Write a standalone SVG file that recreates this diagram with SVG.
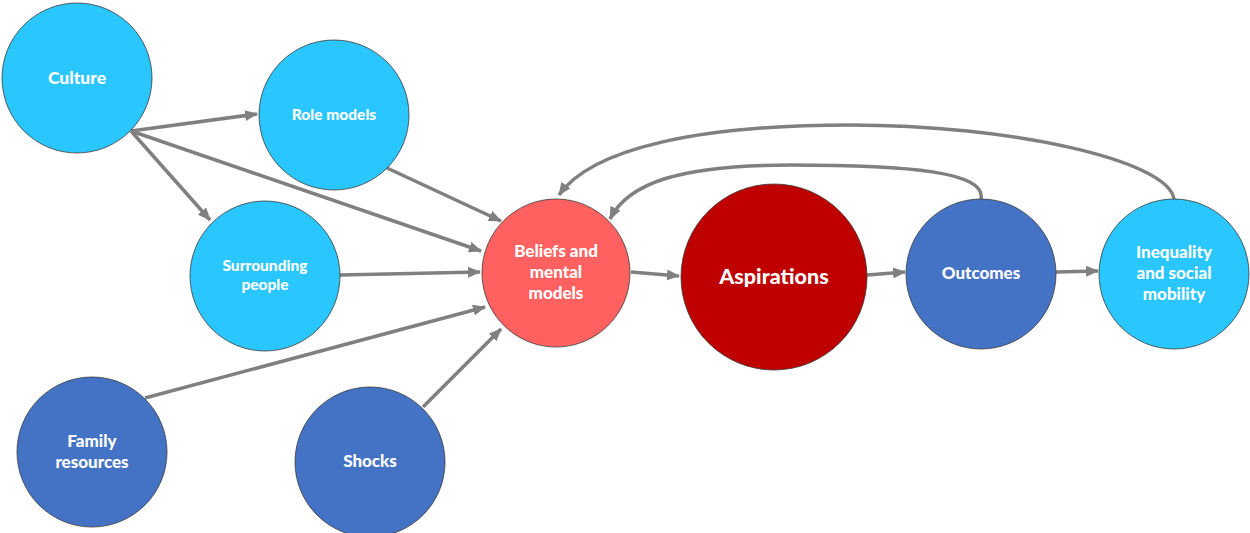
<svg xmlns="http://www.w3.org/2000/svg" width="1250" height="533" viewBox="0 0 1250 533">
<defs>
<marker id="ah" markerUnits="userSpaceOnUse" markerWidth="13" markerHeight="11" refX="12" refY="5.5" orient="auto">
<path d="M0,0 L13,5.5 L0,11 z" fill="#808080"/>
</marker>
<style>
.c{stroke:#3a3a3a;stroke-width:0.8}
.lb{fill:#29c6ff}
.db{fill:#4472c4}
.t{font-family:Lato,"Liberation Sans",sans-serif;font-weight:900;fill:#ffffff;text-anchor:middle}
.e{fill:none;stroke:#808080;stroke-width:3.5;marker-end:url(#ah)}
</style>
</defs>
<rect width="1250" height="533" fill="#ffffff"/>
<g id="connectors">
<path class="e" d="M131,131 L257,114"/>
<path class="e" d="M131,131 L210,220"/>
<path class="e" d="M131,131 L481,251"/>
<path class="e" d="M387,168 L501,221"/>
<path class="e" d="M340,275 L480,272"/>
<path class="e" d="M145,398 L485,307"/>
<path class="e" d="M423,407 L501,329"/>
<path class="e" d="M631,272 L679,276"/>
<path class="e" d="M867,275 L905,272"/>
<path class="e" d="M1056,272 L1098,271"/>
<path class="e" d="M981,199 C986,172 910,165 790,165 C680,165 628,183 610,219"/>
<path class="e" d="M1174,199 C1168,160 1010,125 850,125 C700,125 592,148 559,195"/>
</g>
<g id="culture"><circle class="c lb" cx="77" cy="78" r="75"/><text class="t" x="77" y="84" font-size="17.5">Culture</text></g>
<g id="role-models"><circle class="c lb" cx="334" cy="115" r="75"/><text class="t" x="334" y="120" font-size="15.5">Role models</text></g>
<g id="surrounding-people"><circle class="c lb" cx="265" cy="276" r="75"/><text class="t" x="265" y="271" font-size="15.5">Surrounding</text><text class="t" x="265" y="290" font-size="15.5">people</text></g>
<g id="beliefs"><circle class="c" fill="#ff6161" cx="556" cy="273" r="74"/><text class="t" x="556" y="257" font-size="17">Beliefs and</text><text class="t" x="556" y="278" font-size="17">mental</text><text class="t" x="556" y="299" font-size="17">models</text></g>
<g id="aspirations"><circle class="c" fill="#be0000" cx="774" cy="277" r="93"/><text class="t" x="774" y="284" font-size="21.5">Aspirations</text></g>
<g id="outcomes"><circle class="c db" cx="981" cy="274" r="75"/><text class="t" x="981" y="279" font-size="17">Outcomes</text></g>
<g id="inequality"><circle class="c lb" cx="1174" cy="274" r="75"/><text class="t" x="1174" y="258" font-size="17">Inequality</text><text class="t" x="1174" y="279" font-size="17">and social</text><text class="t" x="1174" y="300" font-size="17">mobility</text></g>
<g id="family-resources"><circle class="c db" cx="92" cy="452" r="75"/><text class="t" x="92" y="447" font-size="17">Family</text><text class="t" x="92" y="468" font-size="17">resources</text></g>
<g id="shocks"><circle class="c db" cx="370" cy="462" r="75"/><text class="t" x="370" y="467" font-size="17">Shocks</text></g>
</svg>
